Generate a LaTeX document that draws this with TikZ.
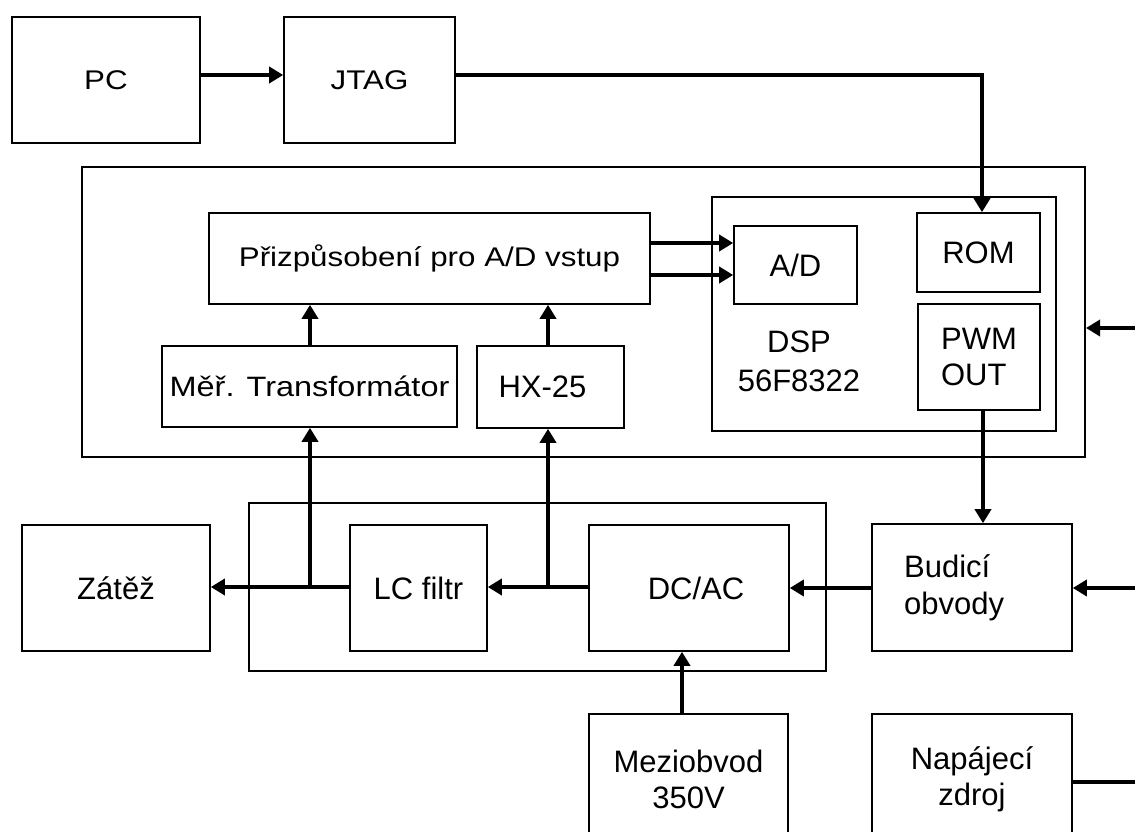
\documentclass[tikz,border=0pt]{standalone}
\usepackage{fontspec}
\setmainfont{Liberation Sans}
\newfontfamily\widefont{Liberation Sans}[FakeStretch=1.16]
\usetikzlibrary{arrows.meta}
\begin{document}
\begin{tikzpicture}[x=1pt,y=-1pt,
  box/.style={draw, line width=1.6pt, inner sep=0pt, align=center, font=\fontsize{31}{36}\selectfont},
  frame/.style={draw, line width=2pt, inner sep=0pt},
  txt/.style={inner sep=0pt, font=\fontsize{31}{37}\selectfont},
  widetxt/.style={font=\widefont\fontsize{27}{32}\selectfont},
  conn/.style={line width=3.6pt},
  arr/.style={conn, -{Triangle[length=14pt,width=16pt]}},
]
\useasboundingbox (0,0) rectangle (1135,832);

% top row
\node[box, widetxt, minimum width=188pt, minimum height=126pt] (pc) at (106,80) {PC};
\node[box, widetxt, minimum width=171pt, minimum height=126pt] (jtag) at (369.5,80) {JTAG};

% DSP board frame
\node[frame, minimum width=1003pt, minimum height=290pt] (board) at (583.5,312) {};
\node[box, widetxt, minimum width=441pt, minimum height=91pt] (prz) at (429.5,258.5) {Přizpůsobení pro A/D vstup};
\node[box, font=\widefont\fontsize{28}{33}\selectfont, minimum width=295pt, minimum height=81pt] (mer) at (309.5,386.5) {Měř. Transformátor};
\node[box, minimum width=147pt, minimum height=82pt] (hx) at (550.5,387) {HX-25\hspace*{16pt}};
\node[box, minimum width=344pt, minimum height=234pt] (dsp) at (884,314) {};
\node[txt, align=center, font=\fontsize{31}{39}\selectfont] (dsptxt) at (799,361) {DSP\\56F8322};
\node[box, minimum width=123pt, minimum height=78pt] (ad) at (795.5,265) {A/D};
\node[box, minimum width=123pt, minimum height=79pt] (rom) at (978.5,252.5) {ROM};
\node[box, align=left, minimum width=122pt, minimum height=106pt] (pwm) at (979,357) {PWM\\OUT};

% power part
\node[box, minimum width=188pt, minimum height=126pt] (zat) at (116,588) {Zátěž};
\node[frame, minimum width=577pt, minimum height=168pt] (grp) at (537.5,587) {};
\node[box, minimum width=137pt, minimum height=126pt] (lc) at (418.5,588) {LC filtr};
\node[box, minimum width=200pt, minimum height=126pt] (dcac) at (689,588) {\hspace*{14pt}DC/AC};
\node[box, minimum width=200pt, minimum height=127pt] (bud) at (972,587.5) {};
\node[txt, align=left, anchor=west] (budtxt) at (904,588) {Budicí\\obvody};
\node[box, minimum width=199pt, minimum height=130pt] (mez) at (688.5,779) {Meziobvod\\350V};
\node[box, minimum width=200pt, minimum height=130pt] (nap) at (972,779) {Napájecí\\zdroj};

% coordinates
\coordinate (j1) at (982,75);
\coordinate (p1) at (983,0);
\coordinate (r1) at (1135,328);
\coordinate (r2) at (1135,588);
\coordinate (r3) at (1135,782);
\coordinate (m) at (0,587);
\coordinate (b1) at (310,587);
\coordinate (b2) at (548,587);
\coordinate (a1) at (0,243);
\coordinate (a2) at (0,275);
\coordinate (v) at (682,0);
\coordinate (pcy) at (0,75);

% connectors
\draw[arr] (pc.east |- pcy) -- (jtag.west |- pcy);
\draw[arr] (jtag.east |- j1) -- (j1) -- (j1 |- rom.north);
\draw[arr] (p1 |- pwm.south) -- (p1 |- bud.north);
\draw[arr] (r1) -- (r1 -| board.east);
\draw[arr] (r2) -- (r2 -| bud.east);
\draw[conn] (r3 -| nap.east) -- (r3);
\draw[arr] (bud.west |- r2) -- (dcac.east |- r2);
\draw[arr] (dcac.west |- m) -- (lc.east |- m);
\draw[arr] (lc.west |- m) -- (zat.east |- m);
\draw[arr] (b1) -- (b1 |- mer.south);
\draw[arr] (b2) -- (b2 |- hx.south);
\draw[arr] (mer.north -| b1) -- (b1 |- prz.south);
\draw[arr] (hx.north -| b2) -- (b2 |- prz.south);
\draw[arr] (prz.east |- a1) -- (ad.west |- a1);
\draw[arr] (prz.east |- a2) -- (ad.west |- a2);
\draw[arr] (v |- mez.north) -- (v |- dcac.south);
\end{tikzpicture}
\end{document}
